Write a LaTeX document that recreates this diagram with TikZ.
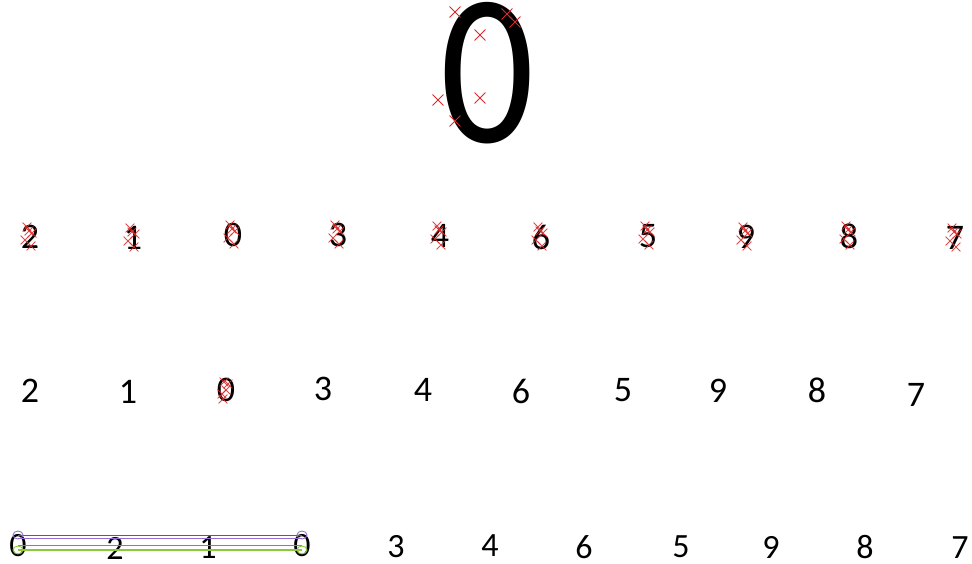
\documentclass[tikz,border=0pt]{standalone}
\usepackage{fontspec}
\setmainfont{Carlito}
\usetikzlibrary{shapes.misc,shapes.geometric,calc}
\definecolor{mred}{RGB}{220,40,40}
\definecolor{mpurple}{RGB}{150,110,210}
\definecolor{mgreen}{RGB}{140,200,60}
\begin{document}
\begin{tikzpicture}[x=1pt,y=-1pt,
  digit/.style={inner sep=0pt,font=\fontsize{36}{40}\selectfont},
  digitc/.style={inner sep=0pt,font=\fontsize{34}{38}\selectfont},
  bigdigit/.style={inner sep=0pt,xscale=0.86,font=\fontsize{216}{240}\selectfont},
  xmark/.style={cross out,draw=mred,line width=0.9pt,minimum size=10pt,inner sep=0pt},
  smallx/.style={cross out,draw=mred,line width=0.8pt,minimum size=8pt,inner sep=0pt,opacity=0.85},
  ring/.style={draw=#1,line width=0.9pt,ellipse,minimum width=10pt,minimum height=8pt,inner sep=0pt}]
\useasboundingbox (0,0) rectangle (972,564);
% big zero
\node[bigdigit] (big) at (488,73) {0};
\foreach \i/\x/\y in {1/455/12,2/480/35,3/507/14,4/515/22,5/438/100,6/480/98,7/455/121}
  \node[xmark] (bx\i) at (\x,\y) {};
% row 1
\foreach \i/\d/\x/\y in {1/2/30/237,2/1/133/238,3/0/233/235,4/3/338/235,5/4/440/236,6/6/541/237,7/5/648/236,8/9/746/237,9/8/849/236,10/7/955/238}{
  \node[digit] (a\i) at (\x,\y) {\d};
  \foreach \j/\dx/\dy in {1/-3/-10,2/-5/3,3/2/-4,4/1/9,5/-1/-6}
    \node[smallx] (ax\i-\j) at ($(\x,\y)+(\dx,\dy)$) {};
}
% row 2
\foreach \i/\d/\x/\y in {1/2/30/391,2/1/128/392,3/0/226/390,4/3/323/389,5/4/423/390,6/6/521/391,7/5/623/390,8/9/718/391,9/8/817/390,10/7/916/395}
  \node[digit] (b\i) at (\x,\y) {\d};
\foreach \j/\dx/\dy in {1/-2/-8,2/2/-6,3/-4/4,4/0/0,5/-3/9}
  \node[smallx] (bx\j) at ($(b3)+(\dx,\dy)$) {};
% row 3
\foreach \i/\d/\x/\y in {1/0/18/546,2/2/115/548,3/1/208/548,4/0/302/546,5/3/396/547,6/4/490/546,7/6/584/547,8/5/681/547,9/9/771/547,10/8/865/547,11/7/960/548}
  \node[digitc] (c\i) at (\x,\y) {\d};
\coordinate (l1) at (18,535); \coordinate (r1) at (302,535);
\coordinate (l2) at (18,538); \coordinate (r2) at (302,538);
\coordinate (l3) at (18,545); \coordinate (r3) at (302,545);
\coordinate (l4) at (18,550); \coordinate (r4) at (302,550);
\draw[mred,line width=1pt] (l1) -- (r1);
\draw[mpurple,line width=1pt] (l2) -- (r2);
\draw[mpurple,line width=1pt] (l3) -- (r3);
\draw[mgreen,line width=1.2pt] (l4) -- (r4);
\node[ring=mpurple] (rl) at (l1) {};
\node[ring=mpurple] (rr) at (r1) {};
\node[ring=mgreen] (gl) at (l4) {};
\node[ring=mgreen] (gr) at (r4) {};
\end{tikzpicture}
\end{document}
